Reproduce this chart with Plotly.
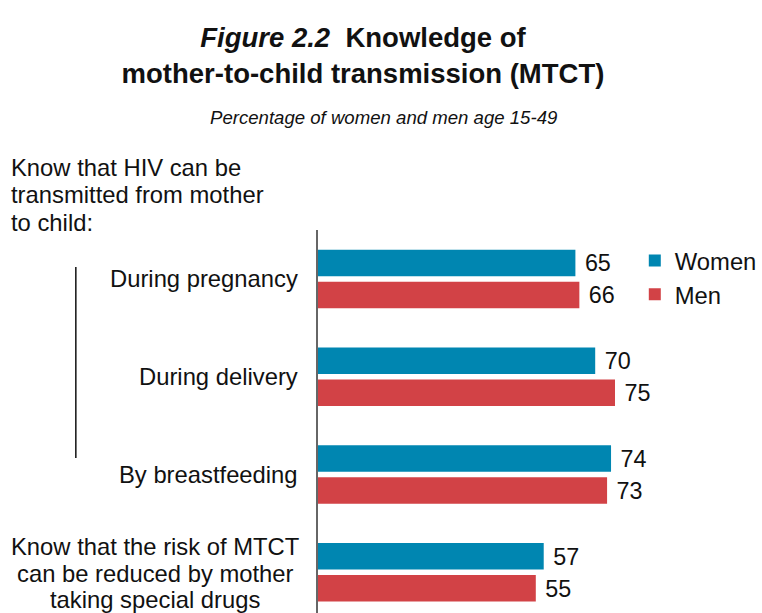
import plotly.graph_objects as go

# ---- data ----
categories = ["During pregnancy", "During delivery", "By breastfeeding",
              "Know that the risk of MTCT can be reduced by mother taking special drugs"]
last_label_lines = ["Know that the risk of MTCT", "can be reduced by mother", "taking special drugs"]
women = [65, 70, 74, 57]
men = [66, 75, 73, 55]
series_names = ["Women", "Men"]
heading_lines = ["Know that HIV can be", "transmitted from mother", "to child:"]

FONT = "Liberation Sans, Arial, sans-serif"
BLUE = "#0086B1"
RED = "#D24246"
TXT = 23.8
TCOL = "#111111"

W, H = 762, 613
ML, MR, MT, MB = 318, 45, 230, 0
PW = W - ML - MR  # plot width px


def px_to_paper_x(px):
    return (px - ML) / PW


def px_to_paper_y(py):
    return 1 - (py - MT) / (H - MT - MB)


fig = go.Figure()
for name, vals, col in [(series_names[0], women, BLUE), (series_names[1], men, RED)]:
    fig.add_trace(go.Bar(
        y=categories, x=vals, name=name, orientation="h",
        marker=dict(color=col, line=dict(width=0)),
        texttemplate=" %{x}", textposition="outside",
        textfont=dict(family=FONT, size=TXT, color=TCOL),
        cliponaxis=False, hoverinfo="x+name",
    ))

annotations = []
# category labels (first three, right-aligned next to the axis)
for cat in categories[:3]:
    annotations.append(dict(x=0, xref="paper", xshift=-18.5, y=cat, yref="y",
                            text=cat, showarrow=False, xanchor="right", yanchor="middle",
                            font=dict(family=FONT, size=TXT, color=TCOL)))
# last category label, centred, three lines
for k, line in enumerate(last_label_lines):
    annotations.append(dict(x=px_to_paper_x(154), xref="paper", y=categories[3], yref="y",
                            yshift=25.5 - 26.5 * k,
                            text=line, showarrow=False, xanchor="center", yanchor="middle",
                            font=dict(family=FONT, size=TXT, color=TCOL)))
# group heading
for k, line in enumerate(heading_lines):
    annotations.append(dict(x=px_to_paper_x(7), xref="paper", y=px_to_paper_y(167.5 + 27.3 * k),
                            yref="paper", text=line, showarrow=False, xanchor="left",
                            yanchor="middle", font=dict(family=FONT, size=TXT, color=TCOL)))
# subtitle
annotations.append(dict(x=px_to_paper_x(384), xref="paper", y=px_to_paper_y(118), yref="paper",
                        text="<i>Percentage of women and men age 15-49</i>", showarrow=False,
                        xanchor="center", yanchor="middle",
                        font=dict(family=FONT, size=18.6, color=TCOL)))

fig.update_layout(
    width=W, height=H,
    margin=dict(l=ML, r=MR, t=MT, b=MB, pad=0),
    paper_bgcolor="white", plot_bgcolor="white",
    font=dict(family=FONT, color=TCOL),
    title=dict(
        text="<b><i>Figure 2.2</i>&nbsp; Knowledge of<br>mother-to-child transmission (MTCT)</b>",
        x=363 / W, xanchor="center", xref="container",
        y=1 - 47 / H, yanchor="top", yref="container",
        font=dict(family=FONT, size=27.5, color=TCOL),
    ),
    barmode="group", bargap=0.346, bargroupgap=0.172,
    xaxis=dict(range=[0, 100], visible=False, fixedrange=True),
    yaxis=dict(range=[3.416, -0.5], showticklabels=False, showgrid=False, zeroline=False,
               showline=True, linecolor="#666666", linewidth=1.5, ticks="", fixedrange=True),
    legend=dict(x=0.80, y=0.978, xanchor="left", yanchor="top", orientation="v",
                font=dict(family=FONT, size=TXT, color=TCOL),
                bgcolor="rgba(0,0,0,0)", borderwidth=0, traceorder="normal"),
    annotations=annotations,
    shapes=[dict(type="line", xref="paper", yref="paper",
                 x0=px_to_paper_x(74), x1=px_to_paper_x(74),
                 y0=px_to_paper_y(267), y1=px_to_paper_y(458),
                 line=dict(color=TCOL, width=1.5))],
)

fig.write_html("out.html", config={"displayModeBar": False},
               post_script="document.body.style.margin='0px';")
